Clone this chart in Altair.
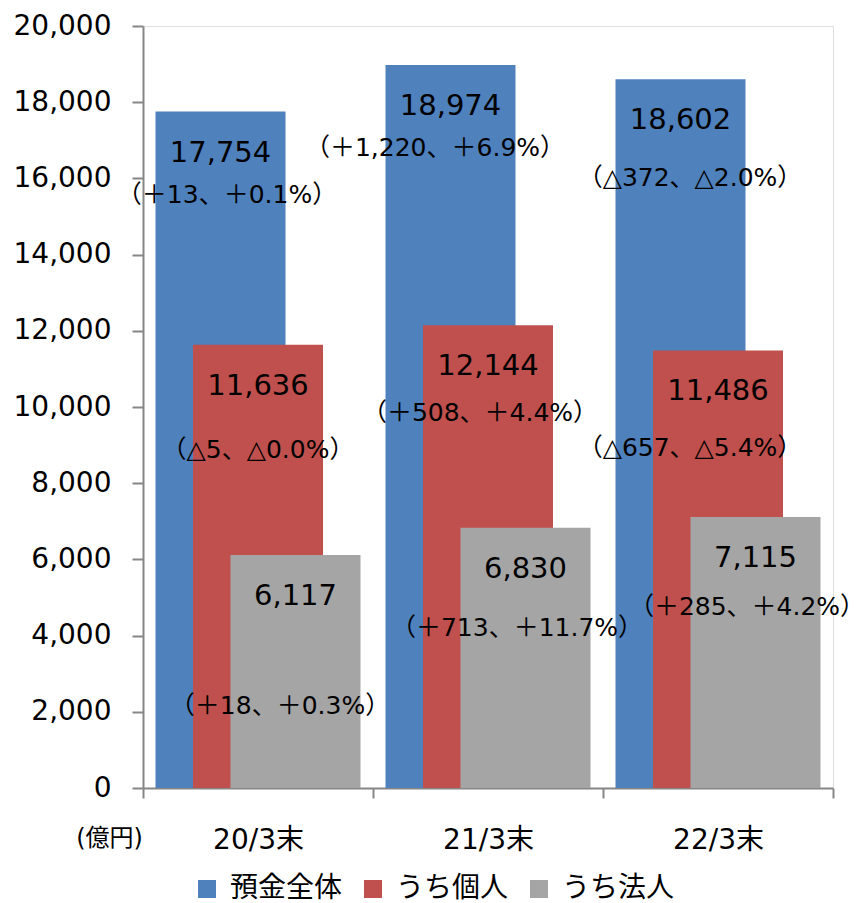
import altair as alt
import pandas as pd

# ---- data ----
categories = ["20/3末", "21/3末", "22/3末"]
series = ["預金全体", "うち個人", "うち法人"]
total = [17754, 18974, 18602]
individual = [11636, 12144, 11486]
corporate = [6117, 6830, 7115]
total_change = ["（＋13、＋0.1%）", "（＋1,220、＋6.9%）", "（△372、△2.0%）"]
individual_change = ["（△5、△0.0%）", "（＋508、＋4.4%）", "（△657、△5.4%）"]
corporate_change = ["（＋18、＋0.3%）", "（＋713、＋11.7%）", "（＋285、＋4.2%）"]
colors = ["#4F81BD", "#C0504D", "#A5A5A5"]

values_by_series = [total, individual, corporate]
changes_by_series = [total_change, individual_change, corporate_change]

rows = []
for s, vals, chs in zip(series, values_by_series, changes_by_series):
    for c, v, ch in zip(categories, vals, chs):
        rows.append({"category": c, "series": s, "value": v, "change": ch})
df = pd.DataFrame(rows)

# ---- layout / style ----
FONT = "DejaVu Sans, Noto Sans CJK JP"
AXIS_GRAY = "#868686"
BAR_W = 130
bar_offsets = {"預金全体": -37.5, "うち個人": 0, "うち法人": 37.5}
# manual label nudges (dx from category centre, dy from bar top)
change_nudge = {
    ("預金全体", "20/3末"): (-31, 83),
    ("預金全体", "21/3末"): (-53, 83),
    ("預金全体", "22/3末"): (-28, 99),
    ("うち個人", "20/3末"): (0, 105),
    ("うち個人", "21/3末"): (-8, 88),
    ("うち個人", "22/3末"): (-28, 98),
    ("うち法人", "20/3末"): (22, 151),
    ("うち法人", "21/3末"): (29, 100),
    ("うち法人", "22/3末"): (29, 90),
}

x_enc = alt.X(
    "category:N",
    sort=categories,
    scale=alt.Scale(paddingInner=0, paddingOuter=0),
    axis=alt.Axis(
        title=None,
        labelAngle=0,
        labelFontSize=28,
        labelColor="black",
        labelFont=FONT,
        labelPadding=28,
        tickBand="extent",
        tickSize=10,
        tickWidth=2,
        tickColor=AXIS_GRAY,
        domainColor=AXIS_GRAY,
        domainWidth=2,
    ),
)
y_enc = alt.Y(
    "value:Q",
    scale=alt.Scale(domain=[0, 20000]),
    axis=alt.Axis(
        values=list(range(0, 20001, 2000)),
        format=",d",
        grid=False,
        labelFontSize=28,
        labelColor="black",
        labelFont=FONT,
        labelPadding=21,
        tickSize=11,
        tickWidth=2,
        tickColor=AXIS_GRAY,
        domainColor=AXIS_GRAY,
        domainWidth=2,
        title="(億円)",
        titleAngle=0,
        titleAlign="center",
        titleBaseline="middle",
        titleX=-34,
        titleY=812,
        titleFontSize=24,
        titleFontWeight="normal",
        titleFont=FONT,
        titleColor="black",
    ),
)
color_enc = alt.Color(
    "series:N",
    scale=alt.Scale(domain=series, range=colors),
    legend=alt.Legend(
        title=None,
        orient="none",
        direction="horizontal",
        legendX=50,
        legendY=849,
        symbolType="square",
        symbolSize=324,
        symbolStrokeWidth=0,
        labelFontSize=28,
        labelFont=FONT,
        labelColor="black",
        labelOffset=9,
        columnPadding=16,
    ),
)

base = alt.Chart(df)
layers = []
for s in series:
    layers.append(
        base.transform_filter(alt.datum.series == s)
        .mark_bar(width=BAR_W, xOffset=bar_offsets[s])
        .encode(x=x_enc, y=y_enc, color=color_enc)
    )
for s in series:
    layers.append(
        base.transform_filter(alt.datum.series == s)
        .mark_text(xOffset=bar_offsets[s], dy=41, baseline="middle", align="center",
                   fontSize=29, font=FONT, color="black")
        .encode(x=x_enc, y=y_enc, text=alt.Text("value:Q", format=","))
    )
for (s, c), (dx, dy) in change_nudge.items():
    layers.append(
        base.transform_filter((alt.datum.series == s) & (alt.datum.category == c))
        .mark_text(dx=dx, dy=dy, baseline="middle", align="center",
                   fontSize=25, font=FONT, color="black")
        .encode(x=x_enc, y=y_enc, text="change:N")
    )

chart = (
    alt.layer(*layers)
    .properties(
        width=690,
        height=762,
        autosize=alt.AutoSizeParams(type="none"),
        padding={"left": 143, "top": 26, "right": 23, "bottom": 115},
    )
    .configure_view(stroke=None)
    .configure(font=FONT, background="white")
)

chart.save("out.html", embed_options={"renderer": "svg", "actions": False})
